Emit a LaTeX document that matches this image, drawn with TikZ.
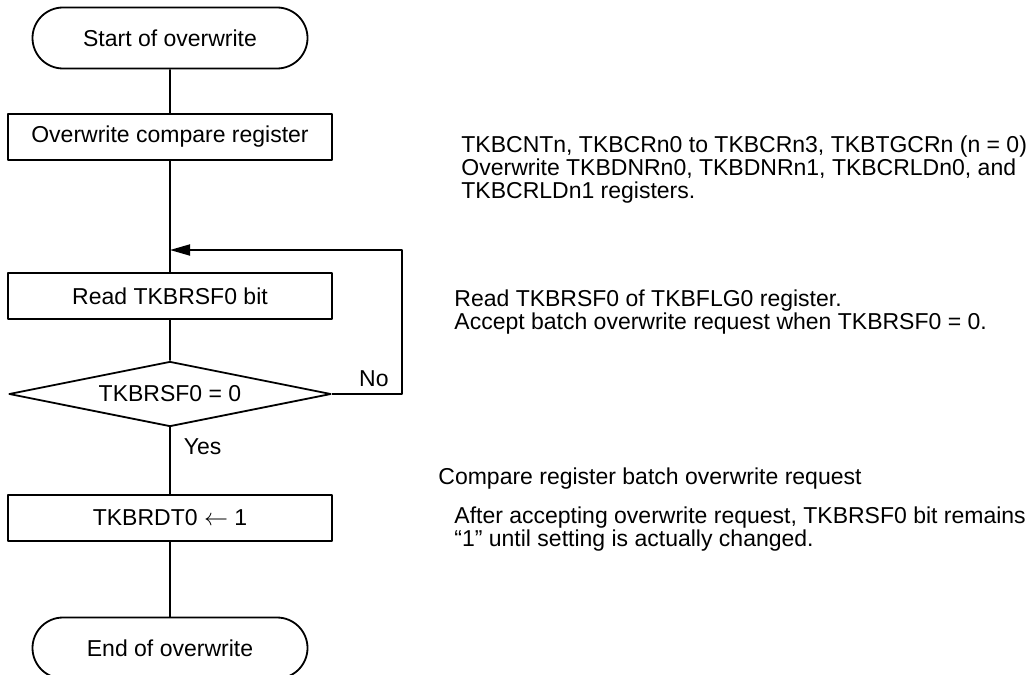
\documentclass[tikz,border=0pt]{standalone}
\usepackage{fontspec}
\setmainfont{Liberation Sans}
\usetikzlibrary{shapes.geometric,shapes.misc,arrows.meta}
\begin{document}
\begin{tikzpicture}[x=0.5pt,y=-0.5pt,>={Triangle[length=10pt,width=5.5pt]},line join=round,
	font=\fontsize{11.5}{11.5}\selectfont,
	term/.style={draw,rounded rectangle,minimum width=137.5pt,minimum height=30.5pt,inner sep=0pt,line width=0.9pt},
	proc/.style={draw,rectangle,minimum width=162pt,minimum height=23pt,inner sep=0pt,line width=0.9pt},
	cond/.style={draw,diamond,aspect=5,minimum width=161pt,minimum height=32.5pt,inner sep=0pt,line width=0.9pt},
	note/.style={anchor=north west,align=left,inner sep=0pt}]
	\useasboundingbox (0,0) rectangle (1031,674);
	% flow
	\node[term] (start) at (170,38) {Start of overwrite};
	\node[proc] (write) at (170,137) {Overwrite compare register};
	\node[proc] (read) at (170,296) {Read TKBRSF0 bit};
	\node[cond] (check) at (170,394) {TKBRSF0 = 0};
	\node[proc] (set) at (170,518) {TKBRDT0 $\leftarrow$ 1};
	\node[term] (stop) at (170,648) {End of overwrite};
	\coordinate (join) at (170,250);
	\draw[line width=0.9pt] (start) -- (write) -- (read) -- (check);
	\draw[line width=0.9pt] (check) -- node[pos=0.29,anchor=west,inner sep=0pt,xshift=6.5pt]{Yes} (set) -- (stop);
	\draw[->,line width=0.9pt] (check.east) -- node[pos=0.6,anchor=south,inner sep=0pt,yshift=3pt]{No} ++(70,0) |- (join);
	% notes
	\node[note] (n1) at (461,135) {TKBCNTn, TKBCRn0 to TKBCRn3, TKBTGCRn (n = 0)\\Overwrite TKBDNRn0, TKBDNRn1, TKBCRLDn0, and\\TKBCRLDn1 registers.};
	\node[note] (n2) at (454,289) {Read TKBRSF0 of TKBFLG0 register.\\Accept batch overwrite request when TKBRSF0 = 0.};
	\node[note] (n3) at (438,467) {Compare register batch overwrite request};
	\node[note] (n4) at (454,506) {After accepting overwrite request, TKBRSF0 bit remains\\“1” until setting is actually changed.};
\end{tikzpicture}
\end{document}
